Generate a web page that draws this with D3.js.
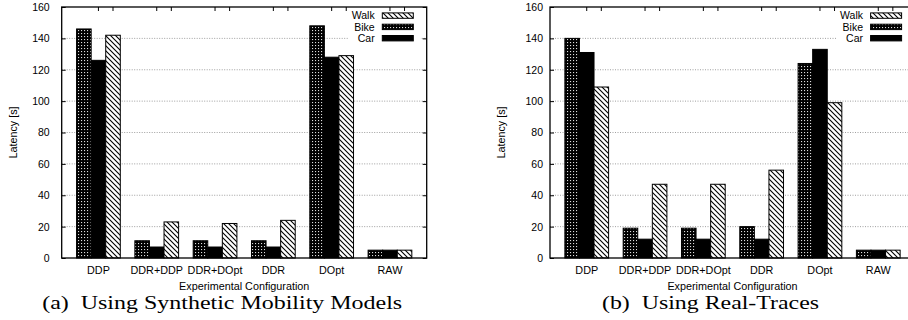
<!DOCTYPE html>
<html>
<head>
<meta charset="utf-8">
<script src="https://cdn.jsdelivr.net/npm/d3@7"></script>
<style>
  body { margin: 0; background: #fff; }
  svg { display: block; }
  text { font-family: "Liberation Sans", Arial, sans-serif; fill: #000; }
</style>
</head>
<body>
<div id="chart"></div>
<script>
const categories = ["DDP", "DDR+DDP", "DDR+DOpt", "DDR", "DOpt", "RAW"]
const seriesNames = ["Bike", "Car", "Walk"]
const legendOrder = ["Walk", "Bike", "Car"]
const yTicks = [0, 20, 40, 60, 80, 100, 120, 140, 160]

// (a) synthetic mobility models
const synthBike = [146, 11, 11, 11, 148, 5]
const synthCar = [126, 7, 7, 7, 128, 5]
const synthWalk = [142, 23, 22, 24, 129, 5]

// (b) real traces
const realBike = [140, 19, 19, 20, 124, 5]
const realCar = [131, 12, 12, 12, 133, 5]
const realWalk = [109, 47, 47, 56, 99, 5]

const captions = ["(a)  Using Synthetic Mobility Models", "(b)  Using Real-Traces"]

const width = 908, height = 320
const svg = d3.select("#chart").append("svg")
  .attr("width", width)
  .attr("height", height)

// fill patterns
const defs = svg.append("defs")
const checker = defs.append("pattern")
  .attr("id", "bike")
  .attr("patternUnits", "userSpaceOnUse")
  .attr("width", 3).attr("height", 3)
checker.append("rect").attr("width", 3).attr("height", 3).attr("fill", "#000")
checker.append("rect").attr("x", 0).attr("y", 0).attr("width", 1.1).attr("height", 1.1).attr("fill", "#ddd")

const hatch = defs.append("pattern")
  .attr("id", "walk")
  .attr("patternUnits", "userSpaceOnUse")
  .attr("width", 5).attr("height", 5)
hatch.append("rect").attr("width", 5).attr("height", 5).attr("fill", "#fff")
hatch.append("path")
  .attr("d", "M-1,-1L6,6M-1,4L1,6M4,-1L6,1")
  .attr("stroke", "#000")
  .attr("stroke-width", 1.1)

const fills = { Bike: "url(#bike)", Car: "#000", Walk: "url(#walk)" }

const panels = [
  { left: 61.7, tickGap: 12, values: { Bike: synthBike, Car: synthCar, Walk: synthWalk }, caption: captions[0], capLen: 360 },
  { left: 550, tickGap: 7, values: { Bike: realBike, Car: realCar, Walk: realWalk }, caption: captions[1], capLen: 217 }
]

const plotW = 365, plotTop = 7, plotBottom = 258
const barW = 0.25

panels.forEach(p => {
  const right = p.left + plotW
  const x = d3.scaleLinear().domain([-0.63, 5.63]).range([p.left, right])
  const y = d3.scaleLinear().domain([0, 160]).range([plotBottom, plotTop])
  const g = svg.append("g")

  // grid
  g.selectAll(".grid")
    .data(yTicks.filter(t => t > 0 && t < 160))
    .enter().append("line")
    .attr("x1", p.left).attr("x2", right)
    .attr("y1", d => y(d)).attr("y2", d => y(d))
    .attr("stroke", "#888")
    .attr("stroke-width", 0.8)
    .attr("stroke-dasharray", "1,1.5")

  // bars
  seriesNames.forEach((s, j) => {
    g.selectAll(".bar-" + s)
      .data(p.values[s])
      .enter().append("rect")
      .attr("x", (d, i) => x(i + (j - 1.5) * barW))
      .attr("width", x(barW) - x(0))
      .attr("y", d => y(d))
      .attr("height", d => y(0) - y(d))
      .attr("fill", fills[s])
      .attr("stroke", "#000")
      .attr("stroke-width", 1)
  })

  // legend (white key box covers the grid)
  g.append("rect")
    .attr("x", right - 78).attr("y", 9)
    .attr("width", 72).attr("height", 36)
    .attr("fill", "#fff")
  legendOrder.forEach((s, k) => {
    const cy = 15.5 + k * 11.3
    g.append("text")
      .attr("x", right - 52).attr("y", cy + 3.8)
      .attr("text-anchor", "end")
      .attr("font-size", 10.5)
      .text(s)
    g.append("rect")
      .attr("x", right - 44.4).attr("y", cy - 2.6)
      .attr("width", 31).attr("height", 5.4)
      .attr("fill", fills[s])
      .attr("stroke", "#000")
      .attr("stroke-width", 1)
  })

  // frame
  g.append("rect")
    .attr("x", p.left).attr("y", plotTop)
    .attr("width", plotW).attr("height", plotBottom - plotTop)
    .attr("fill", "none")
    .attr("stroke", "#000")
    .attr("stroke-width", 1.3)

  // y ticks, mirrored on the right
  const yAxisL = d3.axisLeft(y).tickValues(yTicks).tickSize(-4).tickPadding(p.tickGap)
  const yAxisR = d3.axisRight(y).tickValues(yTicks).tickSize(-4).tickFormat("")
  g.append("g").attr("transform", `translate(${p.left},0)`).call(yAxisL)
    .call(a => a.select(".domain").remove())
    .call(a => a.selectAll("text").attr("font-size", 10.5).attr("font-family", "Liberation Sans, Arial, sans-serif"))
  g.append("g").attr("transform", `translate(${right},0)`).call(yAxisR)
    .call(a => a.select(".domain").remove())

  // top ticks
  const topTicks = []
  categories.forEach((c, i) => { topTicks.push(i, i + barW) })
  g.selectAll(".ttick")
    .data(topTicks)
    .enter().append("line")
    .attr("x1", d => x(d)).attr("x2", d => x(d))
    .attr("y1", plotTop).attr("y2", plotTop + 4)
    .attr("stroke", "#000")

  // category labels
  g.selectAll(".cat")
    .data(categories)
    .enter().append("text")
    .attr("x", (d, i) => x(i))
    .attr("y", 273.5)
    .attr("text-anchor", "middle")
    .attr("font-size", 10.8)
    .text(d => d)

  g.append("text")
    .attr("x", (p.left + right) / 2)
    .attr("y", 290)
    .attr("text-anchor", "middle")
    .attr("font-size", 10.8)
    .text("Experimental Configuration")

  g.append("text")
    .attr("transform", `translate(${p.left - 45},${(plotTop + plotBottom) / 2}) rotate(-90)`)
    .attr("text-anchor", "middle")
    .attr("font-size", 10.8)
    .text("Latency [s]")

  g.append("text")
    .attr("x", (p.left + right) / 2 - 22)
    .attr("y", 309)
    .attr("text-anchor", "middle")
    .attr("font-size", 19)
    .attr("textLength", p.capLen)
    .attr("lengthAdjust", "spacingAndGlyphs")
    .style("font-family", "'Liberation Serif', 'DejaVu Serif', serif")
    .style("white-space", "pre")
    .text(p.caption)
})
</script>
</body>
</html>
